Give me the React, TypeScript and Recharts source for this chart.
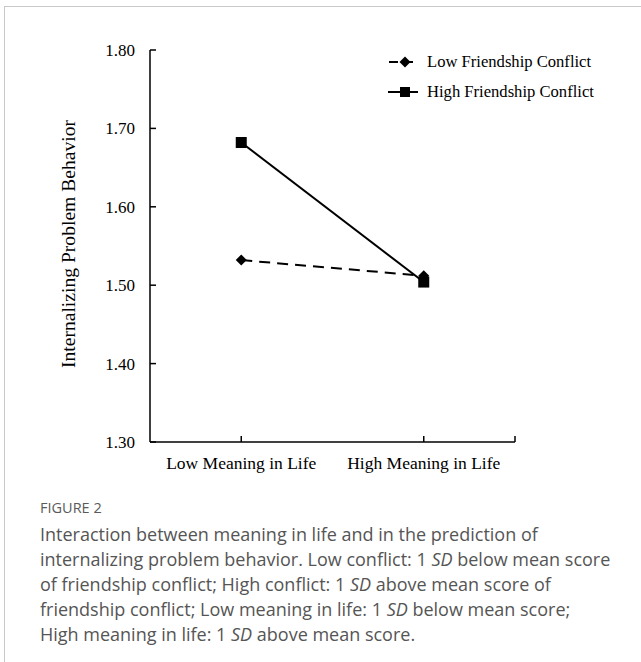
import React from 'react';
import { LineChart, Line, XAxis, YAxis, Customized } from 'recharts';

// values
const categories = ['Low Meaning in Life', 'High Meaning in Life'];
const lowConflict = [1.532, 1.512];
const highConflict = [1.682, 1.504];
const yTicks = [1.3, 1.4, 1.5, 1.6, 1.7, 1.8];

const chartData = categories.map((name, i) => ({
  x: i,
  name,
  low: lowConflict[i],
  high: highConflict[i],
}));

const serif = '"Liberation Serif", "Times New Roman", serif';

const Diamond = (props: any) => {
  const { cx, cy } = props;
  if (cx == null || cy == null) return null;
  return <path d={`M${cx},${cy - 5.5}L${cx + 5.5},${cy}L${cx},${cy + 5.5}L${cx - 5.5},${cy}Z`} fill="#000" />;
};

const Square = (props: any) => {
  const { cx, cy } = props;
  if (cx == null || cy == null) return null;
  return <rect x={cx - 5.5} y={cy - 5.5} width={11} height={11} fill="#000" />;
};

const LegendBox = () => (
  <svg width={240} height={60} style={{ display: 'block' }}>
    <g fontFamily={serif} fontSize={16.6} fill="#000">
      <line x1={0} y1={12} x2={30} y2={12} stroke="#000" strokeWidth={2} strokeDasharray="9 6" strokeDashoffset={-1} />
      <path d="M17,6.5L22.5,12L17,17.5L11.5,12Z" fill="#000" />
      <text x={39} y={17}>Low Friendship Conflict</text>
      <line x1={0} y1={42} x2={30} y2={42} stroke="#000" strokeWidth={2} />
      <rect x={12} y={37} width={10} height={10} fill="#000" />
      <text x={39} y={47}>High Friendship Conflict</text>
    </g>
  </svg>
);

const YLabel = () => (
  <text
    x={75}
    y={244}
    transform="rotate(-90 75 244)"
    textAnchor="middle"
    fontFamily={serif}
    fontSize={19.6}
    fill="#000"
  >
    Internalizing Problem Behavior
  </text>
);

const captionLines = [
  'Interaction between meaning in life and in the prediction of',
  ['internalizing problem behavior. Low conflict: 1 ', 'SD', ' below mean score'],
  ['of friendship conflict; High conflict: 1 ', 'SD', ' above mean score of'],
  ['friendship conflict; Low meaning in life: 1 ', 'SD', ' below mean score;'],
  ['High meaning in life: 1 ', 'SD', ' above mean score.'],
];

export default function App() {
  return (
    <div
      style={{
        position: 'absolute',
        left: 0,
        top: 0,
        width: 641,
        height: 662,
        background: '#fff',
        overflow: 'hidden',
      }}
    >
      <div style={{ position: 'absolute', left: 4, top: 6, width: 637, height: 1, background: '#c8c8c8' }} />
      <div style={{ position: 'absolute', left: 4, top: 6, width: 1, height: 656, background: '#c8c8c8' }} />

      <div style={{ position: 'absolute', left: 0, top: 0 }}>
        <LineChart width={641} height={490} data={chartData} margin={{ top: 50, right: 126, left: 90, bottom: 18 }}>
          <XAxis
            type="number"
            dataKey="x"
            domain={[-0.5, 1.5]}
            ticks={[0, 1, 1.5]}
            tickFormatter={(v: number) => (v === 0 || v === 1 ? categories[v] : '')}
            height={30}
            tickSize={-6}
            tickMargin={21}
            axisLine={{ stroke: '#000', strokeWidth: 1.5 }}
            tickLine={{ stroke: '#000', strokeWidth: 1.5 }}
            tick={{ fill: '#000', fontFamily: serif, fontSize: 17.5 }}
            allowDataOverflow
          />
          <YAxis
            type="number"
            domain={[1.3, 1.8]}
            ticks={yTicks}
            tickFormatter={(v: number) => v.toFixed(2)}
            width={60}
            tickSize={-6}
            tickMargin={21}
            axisLine={{ stroke: '#000', strokeWidth: 1.5 }}
            tickLine={{ stroke: '#000', strokeWidth: 1.5 }}
            tick={{ fill: '#000', fontFamily: serif, fontSize: 17 }}
          />
          <Line
            dataKey="low"
            stroke="#000"
            strokeWidth={2}
            strokeDasharray="11 7"
            dot={<Diamond />}
            isAnimationActive={false}
          />
          <Line dataKey="high" stroke="#000" strokeWidth={2} dot={<Square />} isAnimationActive={false} />
          <Customized component={YLabel} />
        </LineChart>
      </div>

      <div style={{ position: 'absolute', left: 388, top: 50 }}>
        <LegendBox />
      </div>

      <div
        style={{
          position: 'absolute',
          left: 40,
          top: 498,
          fontFamily: '"Open Sans", sans-serif',
          fontSize: 14.5,
          color: '#5a5a5a',
        }}
      >
        FIGURE 2
      </div>
      <div
        style={{
          position: 'absolute',
          left: 40,
          top: 522,
          fontFamily: '"Open Sans", sans-serif',
          fontSize: 18,
          lineHeight: '25px',
          color: '#555',
        }}
      >
        {captionLines.map((line, i) => (
          <div key={i} style={{ whiteSpace: 'nowrap' }}>
            {Array.isArray(line)
              ? line.map((part, j) => (j === 1 ? <i key={j}>{part}</i> : <span key={j}>{part}</span>))
              : line}
          </div>
        ))}
      </div>
    </div>
  );
}
